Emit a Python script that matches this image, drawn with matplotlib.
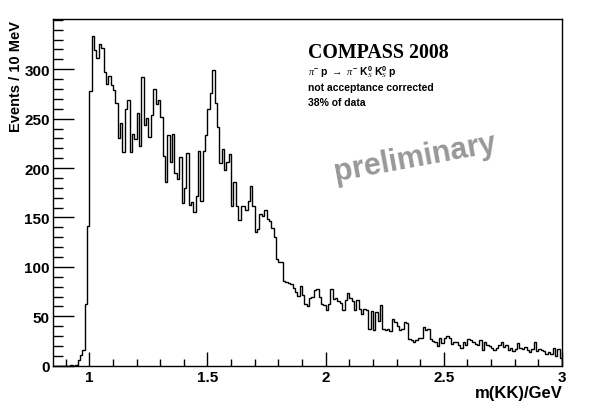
import numpy as np
import matplotlib
matplotlib.use("Agg")
import matplotlib.pyplot as plt
from matplotlib.ticker import MultipleLocator

# ---- data (events per 10 MeV bin, starting at 0.85 GeV) ----
bin_start = 0.85
bin_width = 0.01
counts_threshold = [0, 0, 0, 0, 0, 0, 0, 1, 0, 1, 6, 11, 16, 62, 141]          # 0.85 - 0.99
counts_peak = [278, 334, 319, 311, 326, 321, 297, 285, 293, 284,                 # 1.00 - 1.09
               279, 266, 230, 246, 216, 260, 269, 216, 234, 229,                 # 1.10 - 1.19
               256, 222, 292, 244, 251, 231, 254, 280, 265, 269,                 # 1.20 - 1.29
               252, 212, 186, 233, 206, 234, 195, 189, 211, 165,                 # 1.30 - 1.39
               180, 215, 163, 166, 156, 172, 217, 167, 217, 233,                 # 1.40 - 1.49
               260, 276, 299, 266, 242, 205, 219, 198, 206, 214,                 # 1.50 - 1.59
               162, 186, 162, 147, 162, 162, 158, 167, 182, 162,                 # 1.60 - 1.69
               135, 138, 153, 151, 158, 148, 146, 139, 130, 108,                 # 1.70 - 1.79
               105, 105, 86, 85, 84, 83, 79, 75, 71, 81,                         # 1.80 - 1.89
               72, 62, 60, 68, 70, 77, 78, 70, 62, 61,                           # 1.90 - 1.99
               56, 62, 78]                                                        # 2.00 - 2.02
counts_mid = [67, 68, 65, 63, 56, 66, 74, 68, 65, 56,                            # 2.03 - 2.12
              66, 57, 52, 57, 56, 37, 55, 36, 54, 45,                            # 2.13 - 2.22
              61, 37, 36, 37, 35, 47, 44, 40, 36, 37,                            # 2.23 - 2.32
              44, 43, 27, 26, 24, 26, 28, 28, 39, 36,                            # 2.33 - 2.42
              37, 27, 25, 24, 20, 28, 23, 28, 30, 28]                            # 2.43 - 2.52
counts_tail = [22, 24, 24, 21, 18, 24, 21, 27, 26, 24,                           # 2.53 - 2.62
               22, 21, 26, 16, 24, 21, 20, 18, 16, 18,                           # 2.63 - 2.72
               21, 24, 19, 21, 16, 18, 15, 17, 23, 18,                           # 2.73 - 2.82
               17, 19, 16, 14, 17, 24, 15, 17, 16, 15,                           # 2.83 - 2.92
               12, 14, 12, 18, 10, 17, 8]                                         # 2.93 - 2.99

counts = np.array(counts_threshold + counts_peak + counts_mid + counts_tail, dtype=float)
edges = bin_start + bin_width * np.arange(len(counts) + 1)

x_ticks = [1, 1.5, 2, 2.5, 3]
x_tick_labels = ["1", "1.5", "2", "2.5", "3"]
y_ticks = [0, 50, 100, 150, 200, 250, 300]

# ---- figure ----
W, H = 598, 410
fig = plt.figure(figsize=(W / 100, H / 100), dpi=100)
ax = fig.add_axes([52.7 / W, 1 - 366.7 / H, (562 - 52.7) / W, (366.7 - 20.3) / H])

ax.stairs(counts, edges, color="black", linewidth=1.0)

ax.set_xlim(0.845, 3.0)
ax.set_ylim(0, 350.5)

for s in ax.spines.values():
    s.set_linewidth(1.0)
    s.set_color("black")

ax.set_xticks(x_ticks)
ax.set_xticklabels(x_tick_labels)
ax.set_yticks(y_ticks)
ax.xaxis.set_minor_locator(MultipleLocator(0.1))
ax.yaxis.set_minor_locator(MultipleLocator(10))

lab_font = dict(family="Liberation Sans", weight="bold", size=11)
for lbl in ax.get_xticklabels() + ax.get_yticklabels():
    lbl.set_fontfamily("Liberation Sans")
    lbl.set_fontweight("bold")
    lbl.set_fontsize(11)

ax.tick_params(axis="x", which="major", direction="in", length=10, width=1, pad=3)
ax.tick_params(axis="x", which="minor", direction="in", length=5, width=1)
ax.tick_params(axis="y", which="major", direction="in", length=15, width=1, pad=2)
ax.tick_params(axis="y", which="minor", direction="in", length=7.5, width=1)

# axis titles
fig.text(563 / W, 1 - 386 / H, "m(KK)/GeV", ha="right", va="top",
         family="Liberation Sans", weight="bold", size=12)
fig.text(16.5 / W, 1 - 21 / H, "Events / 10 MeV", ha="center", va="top", rotation=90,
         family="Liberation Sans", weight="bold", size=10.5)

# annotations
plt.rcParams["mathtext.fontset"] = "custom"
plt.rcParams["mathtext.rm"] = "Liberation Sans:bold"
plt.rcParams["mathtext.it"] = "Liberation Serif:italic"
plt.rcParams["mathtext.bf"] = "Liberation Sans:bold"

fig.text(308 / W, 1 - 58.3 / H, "COMPASS 2008", ha="left", va="baseline",
         family="Liberation Serif", weight="bold", size=14.3)
fig.text(308 / W, 1 - 76 / H,
         r"$\pi^{-}$ p $\rightarrow$ $\pi^{-}$ K$^{0}_{S}$ K$^{0}_{S}$ p",
         ha="left", va="baseline", family="Liberation Sans", weight="bold", size=7.5)
fig.text(308 / W, 1 - 91 / H, "not acceptance corrected", ha="left", va="baseline",
         family="Liberation Sans", weight="bold", size=7.5)
fig.text(308 / W, 1 - 106 / H, "38% of data", ha="left", va="baseline",
         family="Liberation Sans", weight="bold", size=7.5)

fig.text(416.5 / W, 1 - 166.7 / H, "preliminary", ha="center", va="baseline",
         rotation=10.4, rotation_mode="anchor", color="#989898",
         family="Liberation Sans", weight="bold", size=22)

fig.savefig("out.png", dpi=100, facecolor="white")
